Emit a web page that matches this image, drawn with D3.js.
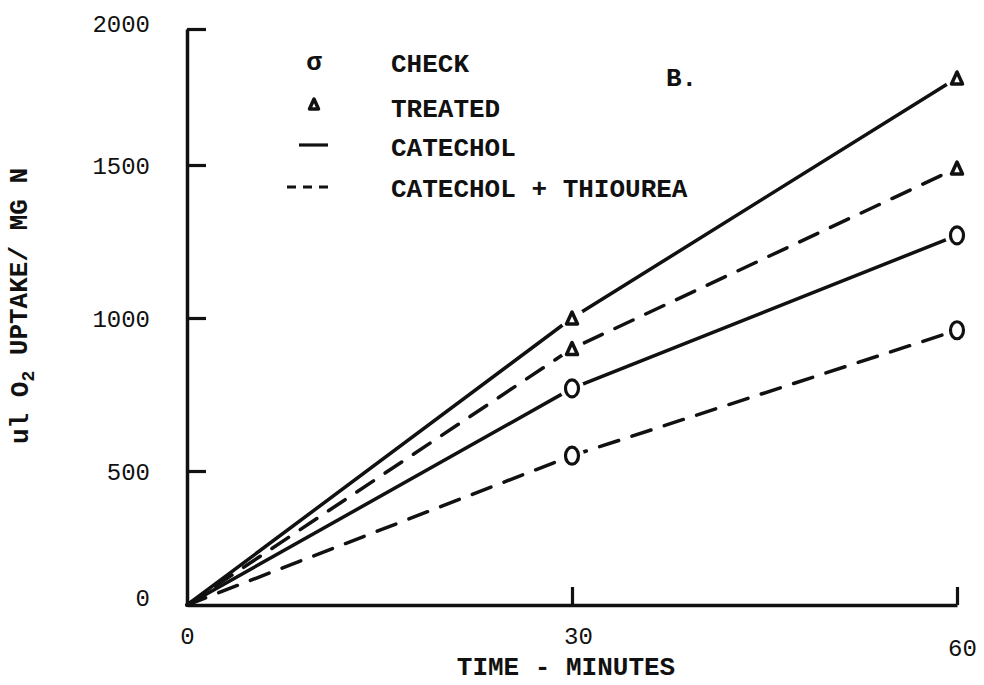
<!DOCTYPE html>
<html>
<head>
<meta charset="utf-8">
<script src="https://cdn.jsdelivr.net/npm/d3@7"></script>
<style>
  html, body { margin: 0; padding: 0; background: #fff; }
  svg { display: block; }
  .num { font-family: "Liberation Mono", monospace; font-size: 24px; fill: #111; }
  .lbl { font-family: "Liberation Mono", monospace; font-weight: bold; font-size: 26px; fill: #111; }
</style>
</head>
<body>
<svg id="chart" width="984" height="685"></svg>
<script>
// Oxygen uptake over time (ul O2 per mg N), panel B
const times = [0, 30, 60];
const xTickValues = [0, 30, 60];
const yTickValues = [0, 500, 1000, 1500, 2000];

const checkCatechol   = [0, 770, 1270];
const checkThiourea   = [0, 550, 960];
const treatedCatechol = [0, 1000, 1820];
const treatedThiourea = [0, 900, 1490];

const legendLabels = ["CHECK", "TREATED", "CATECHOL", "CATECHOL + THIOUREA"];

const series = [
  { values: treatedCatechol, marker: "tri",  dashed: false },
  { values: treatedThiourea, marker: "tri",  dashed: true },
  { values: checkCatechol,   marker: "circ", dashed: false },
  { values: checkThiourea,   marker: "circ", dashed: true }
];

const svg = d3.select("#chart");

// hand-ruled axis: tick spacing on the vertical axis is slightly uneven
const x = d3.scaleLinear().domain([0, 60]).range([187, 957]);
const y = d3.scaleLinear().domain([0, 500, 1000, 1500, 2000]).range([605, 471, 318, 165, 29]);

const ink = "#111";

// Y axis
const yAxis = svg.append("g")
  .attr("transform", `translate(${x(0)},0)`)
  .call(d3.axisLeft(y).tickValues(yTickValues).tickFormat(d3.format("d"))
    .tickSize(-19).tickSizeOuter(0).tickPadding(37));
yAxis.select(".domain").attr("stroke", ink).attr("stroke-width", 3.5);
yAxis.selectAll(".tick line").attr("stroke", ink).attr("stroke-width", 3.2)
  .filter(d => d === 0).remove();
yAxis.selectAll(".tick text").attr("class", "num").attr("dy", "0.35em")
  .attr("y", d => d === 2000 ? -6 : (d === 0 ? -8 : 0));

// X axis
const xAxis = svg.append("g")
  .attr("transform", `translate(0,${y(0)})`)
  .call(d3.axisBottom(x).tickValues(xTickValues).tickSize(-18).tickSizeOuter(0).tickPadding(0));
xAxis.select(".domain").attr("stroke", ink).attr("stroke-width", 3.5);
xAxis.selectAll(".tick line").attr("stroke", ink).attr("stroke-width", 3.2)
  .filter(d => d === 0).remove();
xAxis.selectAll(".tick text").attr("class", "num").attr("dy", "0.35em")
  .attr("y", d => d === 60 ? 43 : 31)
  .attr("x", d => d === 30 ? 6 : (d === 60 ? 5 : 0));

// Axis titles
svg.append("text").attr("class", "lbl")
  .attr("x", 566).attr("y", 666).attr("dy", "0.35em").attr("text-anchor", "middle")
  .attr("font-size", 25)
  .text("TIME - MINUTES");

const yTitle = svg.append("text").attr("class", "lbl")
  .attr("transform", "translate(19,306) rotate(-90)")
  .attr("text-anchor", "middle").attr("dy", "0.35em")
  .attr("font-size", 24);
yTitle.append("tspan").text("ul O");
yTitle.append("tspan").attr("dy", "0.35em").attr("font-size", 18).text("2");
yTitle.append("tspan").attr("dy", "-0.3em").text(" UPTAKE/ MG N");

// Lines
const line = d3.line().x((d, i) => x(times[i])).y(d => y(d));
svg.append("g").selectAll("path").data(series).join("path")
  .attr("d", s => line(s.values))
  .attr("fill", "none").attr("stroke", ink).attr("stroke-width", 3.5)
  .attr("stroke-linecap", "round")
  .attr("stroke-dasharray", s => s.dashed ? "20,14" : null);

// Markers at 30 and 60 minutes, with a small clearing around each
const pts = [];
series.forEach(s => s.values.forEach((v, i) => { if (times[i] > 0) pts.push({ t: times[i], v, marker: s.marker }); }));

const mk = svg.append("g");
mk.selectAll("circle.halo").data(pts).join("circle").attr("class", "halo")
  .attr("cx", d => x(d.t)).attr("cy", d => y(d.v)).attr("r", 12).attr("fill", "#fff");

function triPath(w, h) {
  return `M0,${-h / 2}L${w / 2},${h / 2}L${-w / 2},${h / 2}Z`;
}
mk.selectAll("path.tri").data(pts.filter(d => d.marker === "tri")).join("path").attr("class", "tri")
  .attr("transform", d => `translate(${x(d.t)},${y(d.v)})`)
  .attr("d", triPath(11, 12))
  .attr("fill", "#fff").attr("stroke", ink).attr("stroke-width", 3.5).attr("stroke-linejoin", "round");
mk.selectAll("ellipse").data(pts.filter(d => d.marker === "circ")).join("ellipse")
  .attr("cx", d => x(d.t)).attr("cy", d => y(d.v)).attr("rx", 6.5).attr("ry", 8.5)
  .attr("fill", "none").attr("stroke", ink).attr("stroke-width", 3.2);

// Legend
const lg = svg.append("g");
const rowsY = [63, 108, 147, 188];
lg.selectAll("text.item").data(legendLabels).join("text").attr("class", "lbl item")
  .attr("x", 391).attr("y", (d, i) => rowsY[i]).attr("dy", "0.35em")
  .text(d => d);

lg.append("text").attr("class", "lbl").attr("x", 314).attr("y", rowsY[0] - 2)
  .attr("dy", "0.35em").attr("text-anchor", "middle")
  .attr("font-family", "DejaVu Serif").attr("font-size", 32).text("σ");
lg.append("path").attr("transform", `translate(314,${rowsY[1] - 4})`)
  .attr("d", triPath(9, 10)).attr("fill", "#fff").attr("stroke", ink)
  .attr("stroke-width", 3.5).attr("stroke-linejoin", "round");
lg.append("line").attr("x1", 299).attr("x2", 328).attr("y1", rowsY[2] - 2).attr("y2", rowsY[2] - 2)
  .attr("stroke", ink).attr("stroke-width", 3.2);
lg.append("line").attr("x1", 287).attr("x2", 328).attr("y1", rowsY[3] - 1).attr("y2", rowsY[3] - 1)
  .attr("stroke", ink).attr("stroke-width", 3).attr("stroke-dasharray", "9,7");

// Panel letter
svg.append("text").attr("class", "lbl").attr("x", 666).attr("y", 77).attr("dy", "0.35em")
  .text("B.");
</script>
</body>
</html>
